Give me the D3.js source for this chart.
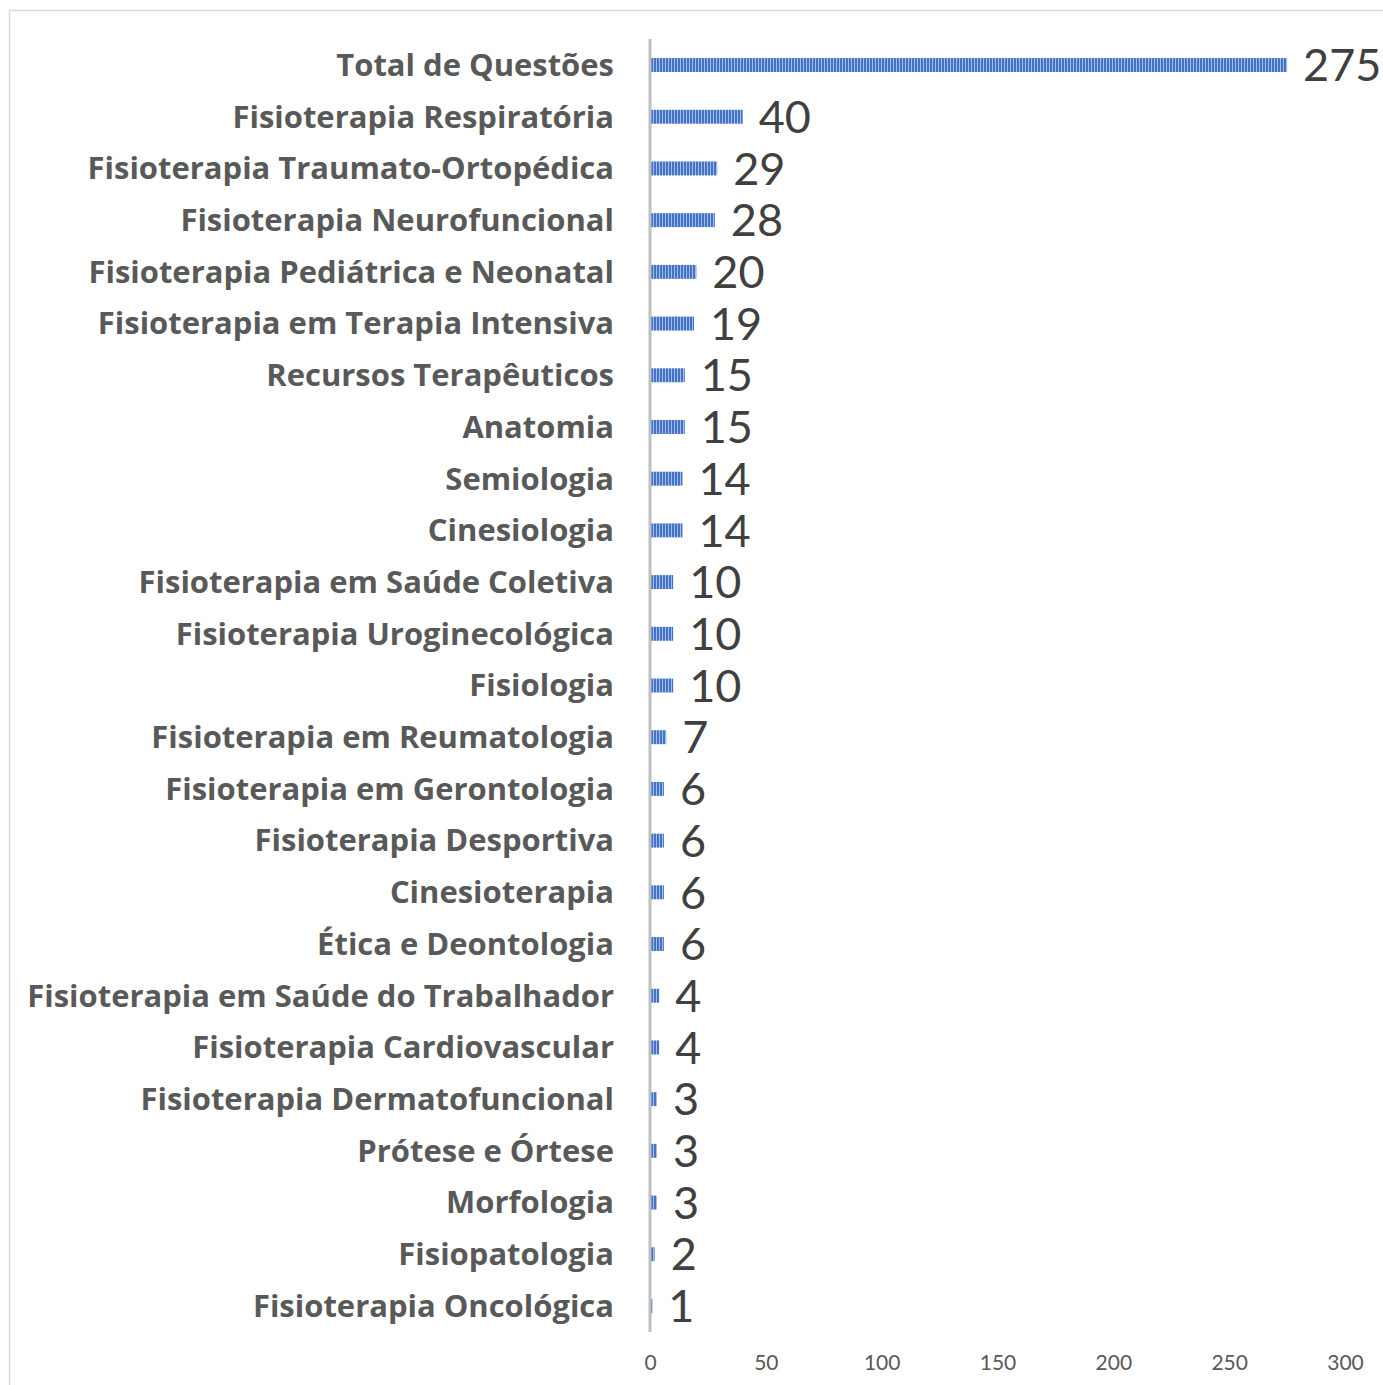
<!DOCTYPE html>
<html><head><meta charset="utf-8">
<script src="https://cdn.jsdelivr.net/npm/d3@7"></script>
<style>body{margin:0;background:#fff}</style>
</head><body>
<script>
const categories = ["Total de Questões","Fisioterapia Respiratória","Fisioterapia Traumato-Ortopédica","Fisioterapia Neurofuncional","Fisioterapia Pediátrica e Neonatal","Fisioterapia em Terapia Intensiva","Recursos Terapêuticos","Anatomia","Semiologia","Cinesiologia","Fisioterapia em Saúde Coletiva","Fisioterapia Uroginecológica","Fisiologia","Fisioterapia em Reumatologia","Fisioterapia em Gerontologia","Fisioterapia Desportiva","Cinesioterapia","Ética e Deontologia","Fisioterapia em Saúde do Trabalhador","Fisioterapia Cardiovascular","Fisioterapia Dermatofuncional","Prótese e Órtese","Morfologia","Fisiopatologia","Fisioterapia Oncológica"];
const values = [275,40,29,28,20,19,15,15,14,14,10,10,10,7,6,6,6,6,4,4,3,3,3,2,1];
const ticks = [0,50,100,150,200,250,300];

const W = 1383, H = 1385;
const svg = d3.select("body").append("svg").attr("width", W).attr("height", H);

// border
svg.append("path").attr("d", `M9.5,${H} L9.5,10.5 L${W},10.5`).attr("fill","none").attr("stroke","#d9d9d9").attr("stroke-width",1.5);

const defs = svg.append("defs");
const pat = defs.append("pattern").attr("id","stripes").attr("patternUnits","userSpaceOnUse").attr("width",3).attr("height",20);
pat.append("rect").attr("width",3).attr("height",20).attr("fill","#a3bdea");
pat.append("rect").attr("width",2).attr("height",20).attr("fill","#4472c4");

const x = d3.scaleLinear().domain([0,300]).range([650,1345]);
const y = d3.scaleBand().domain(categories).range([39.2, 1331.8]).paddingInner(0.73).paddingOuter(0.365);

// bars
svg.selectAll("rect.bar").data(values).join("rect")
  .attr("class","bar")
  .attr("x", x(0))
  .attr("y", (d,i)=> y(categories[i]))
  .attr("width", d => x(d)-x(0))
  .attr("height", y.bandwidth())
  .attr("fill","url(#stripes)");

// axis line
svg.append("line").attr("x1",650).attr("x2",650).attr("y1",39).attr("y2",1332).attr("stroke","#bfbfbf").attr("stroke-width",3);

// category labels
const cats = svg.selectAll("text.cat").data(categories).join("text")
  .attr("class","cat")
  .attr("x",614)
  .attr("y", d => y(d)+y.bandwidth()/2)
  .attr("dy","0.35em")
  .attr("text-anchor","end")
  .attr("font-family","'Open Sans', sans-serif")
  .attr("font-weight","bold")
  .attr("font-size",28)
  .attr("fill","#595959")
  .text(d=>d);
// fit longest label to the reference width
let maxW = 0;
cats.each(function(){ maxW = Math.max(maxW, this.getComputedTextLength()); });
const fs = 28 * 587 / maxW;
cats.attr("font-size", fs);

// value labels
svg.selectAll("text.val").data(values).join("text")
  .attr("class","val")
  .attr("x", d => x(d)+16)
  .attr("y", (d,i)=> y(categories[i])+y.bandwidth()/2)
  .attr("dy","0.36em")
  .attr("font-family","Lato, 'Open Sans', sans-serif")
  .attr("font-size",45)
  .attr("fill","#404040")
  .text(d=>d);

// x axis tick labels
const axis = d3.axisBottom(x).tickValues(ticks).tickSize(0).tickPadding(0);
const g = svg.append("g").attr("transform","translate(0,1355)").call(axis);
g.select(".domain").remove();
g.selectAll("text").attr("font-family","Lato, 'Open Sans', sans-serif").attr("font-size",21).attr("fill","#595959").attr("dy","0.71em");
</script>
</body></html>
